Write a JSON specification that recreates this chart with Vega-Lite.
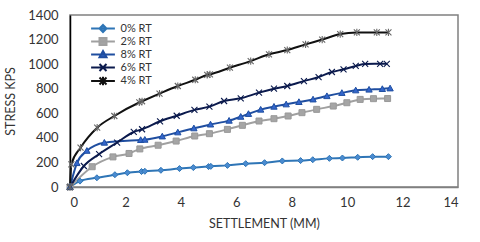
{
  "$schema": "https://vega.github.io/schema/vega-lite/v6.json",
  "width": 388,
  "height": 172,
  "autosize": {"type": "none"},
  "padding": {"left": 70, "top": 15, "right": 22, "bottom": 55},
  "background": "white",
  "config": {
    "view": {"stroke": "#808080", "strokeWidth": 1.5},
    "font": "Lato",
    "axis": {"grid": false, "ticks": false, "labelFont": "Lato", "titleFont": "Lato", "labelFontSize": 13, "titleFontSize": 12.5, "titleFontWeight": "normal", "labelColor": "#333", "titleColor": "#333", "format": "d"}
  },
  "data": {"values": [
    {"s": "0% RT", "x": 0, "y": 0}, {"s": "0% RT", "x": 0.36, "y": 48}, {"s": "0% RT", "x": 0.97, "y": 75}, {"s": "0% RT", "x": 1.62, "y": 100}, {"s": "0% RT", "x": 2.07, "y": 116}, {"s": "0% RT", "x": 2.58, "y": 126}, {"s": "0% RT", "x": 2.7, "y": 128}, {"s": "0% RT", "x": 3.28, "y": 136}, {"s": "0% RT", "x": 3.95, "y": 150}, {"s": "0% RT", "x": 4.45, "y": 158}, {"s": "0% RT", "x": 5.0, "y": 166}, {"s": "0% RT", "x": 5.08, "y": 168}, {"s": "0% RT", "x": 5.68, "y": 176}, {"s": "0% RT", "x": 6.34, "y": 190}, {"s": "0% RT", "x": 7.02, "y": 198}, {"s": "0% RT", "x": 7.66, "y": 212}, {"s": "0% RT", "x": 8.32, "y": 215}, {"s": "0% RT", "x": 8.76, "y": 222}, {"s": "0% RT", "x": 9.36, "y": 233}, {"s": "0% RT", "x": 9.83, "y": 236}, {"s": "0% RT", "x": 10.38, "y": 242}, {"s": "0% RT", "x": 10.92, "y": 247}, {"s": "0% RT", "x": 11.49, "y": 247},
    {"s": "2% RT", "x": 0, "y": 0}, {"s": "2% RT", "x": 0.8, "y": 165}, {"s": "2% RT", "x": 1.55, "y": 245}, {"s": "2% RT", "x": 2.13, "y": 273}, {"s": "2% RT", "x": 2.52, "y": 310}, {"s": "2% RT", "x": 3.18, "y": 340}, {"s": "2% RT", "x": 3.83, "y": 374}, {"s": "2% RT", "x": 4.5, "y": 415}, {"s": "2% RT", "x": 5.03, "y": 434}, {"s": "2% RT", "x": 5.68, "y": 469}, {"s": "2% RT", "x": 6.22, "y": 502}, {"s": "2% RT", "x": 6.82, "y": 537}, {"s": "2% RT", "x": 7.36, "y": 556}, {"s": "2% RT", "x": 7.87, "y": 578}, {"s": "2% RT", "x": 8.37, "y": 605}, {"s": "2% RT", "x": 8.9, "y": 632}, {"s": "2% RT", "x": 9.5, "y": 659}, {"s": "2% RT", "x": 9.99, "y": 686}, {"s": "2% RT", "x": 10.47, "y": 713}, {"s": "2% RT", "x": 10.95, "y": 719}, {"s": "2% RT", "x": 11.46, "y": 720},
    {"s": "8% RT", "x": 0, "y": 0}, {"s": "8% RT", "x": 0.25, "y": 195}, {"s": "8% RT", "x": 0.61, "y": 295}, {"s": "8% RT", "x": 1.24, "y": 361}, {"s": "8% RT", "x": 2.55, "y": 383}, {"s": "8% RT", "x": 2.7, "y": 385}, {"s": "8% RT", "x": 3.33, "y": 412}, {"s": "8% RT", "x": 3.89, "y": 445}, {"s": "8% RT", "x": 4.47, "y": 478}, {"s": "8% RT", "x": 5.07, "y": 509}, {"s": "8% RT", "x": 5.74, "y": 540}, {"s": "8% RT", "x": 6.16, "y": 572}, {"s": "8% RT", "x": 6.44, "y": 595}, {"s": "8% RT", "x": 6.88, "y": 630}, {"s": "8% RT", "x": 7.36, "y": 654}, {"s": "8% RT", "x": 7.8, "y": 673}, {"s": "8% RT", "x": 8.26, "y": 692}, {"s": "8% RT", "x": 8.77, "y": 713}, {"s": "8% RT", "x": 9.27, "y": 740}, {"s": "8% RT", "x": 9.81, "y": 766}, {"s": "8% RT", "x": 10.31, "y": 787}, {"s": "8% RT", "x": 10.79, "y": 793}, {"s": "8% RT", "x": 11.27, "y": 798}, {"s": "8% RT", "x": 11.55, "y": 803},
    {"s": "6% RT", "x": 0, "y": 0}, {"s": "6% RT", "x": 0.5, "y": 171}, {"s": "6% RT", "x": 1.05, "y": 268}, {"s": "6% RT", "x": 1.7, "y": 362}, {"s": "6% RT", "x": 2.3, "y": 448}, {"s": "6% RT", "x": 2.6, "y": 470}, {"s": "6% RT", "x": 3.25, "y": 535}, {"s": "6% RT", "x": 3.85, "y": 580}, {"s": "6% RT", "x": 4.49, "y": 628}, {"s": "6% RT", "x": 5.03, "y": 654}, {"s": "6% RT", "x": 5.56, "y": 700}, {"s": "6% RT", "x": 6.16, "y": 722}, {"s": "6% RT", "x": 6.82, "y": 768}, {"s": "6% RT", "x": 7.36, "y": 800}, {"s": "6% RT", "x": 7.84, "y": 822}, {"s": "6% RT", "x": 8.44, "y": 862}, {"s": "6% RT", "x": 8.97, "y": 895}, {"s": "6% RT", "x": 9.45, "y": 936}, {"s": "6% RT", "x": 9.87, "y": 958}, {"s": "6% RT", "x": 10.31, "y": 985}, {"s": "6% RT", "x": 10.65, "y": 1002}, {"s": "6% RT", "x": 11.19, "y": 1003}, {"s": "6% RT", "x": 11.43, "y": 1003},
    {"s": "4% RT", "x": 0, "y": 0}, {"s": "4% RT", "x": 0.05, "y": 185}, {"s": "4% RT", "x": 0.38, "y": 320}, {"s": "4% RT", "x": 0.98, "y": 483}, {"s": "4% RT", "x": 1.6, "y": 578}, {"s": "4% RT", "x": 2.5, "y": 688}, {"s": "4% RT", "x": 2.6, "y": 698}, {"s": "4% RT", "x": 3.23, "y": 760}, {"s": "4% RT", "x": 3.89, "y": 822}, {"s": "4% RT", "x": 4.52, "y": 873}, {"s": "4% RT", "x": 4.95, "y": 912}, {"s": "4% RT", "x": 5.05, "y": 917}, {"s": "4% RT", "x": 5.77, "y": 971}, {"s": "4% RT", "x": 6.52, "y": 1025}, {"s": "4% RT", "x": 7.18, "y": 1080}, {"s": "4% RT", "x": 7.84, "y": 1115}, {"s": "4% RT", "x": 8.5, "y": 1161}, {"s": "4% RT", "x": 9.1, "y": 1200}, {"s": "4% RT", "x": 9.75, "y": 1245}, {"s": "4% RT", "x": 10.35, "y": 1258}, {"s": "4% RT", "x": 11.07, "y": 1258}, {"s": "4% RT", "x": 11.49, "y": 1258}
  ]},
  "encoding": {
    "x": {"field": "x", "type": "quantitative", "title": "SETTLEMENT (MM)", "scale": {"domain": [0, 14], "nice": false}, "axis": {"values": [0, 2, 4, 6, 8, 10, 12, 14], "labelPadding": 9, "titlePadding": 8, "domainColor": "#808080", "domainWidth": 1.5}},
    "y": {"field": "y", "type": "quantitative", "title": "STRESS KPS", "scale": {"domain": [0, 1400], "nice": false}, "axis": {"values": [0, 200, 400, 600, 800, 1000, 1200, 1400], "labelPadding": 12, "titlePadding": 10, "domainColor": "#000000", "domainWidth": 1.5}}
  },
  "layer": [
    {
      "mark": {"type": "line", "interpolate": "monotone", "strokeWidth": 2},
      "encoding": {
        "color": {"field": "s", "type": "nominal", "legend": null, "scale": {"range": ["#2E75B6", "#A0A0A0", "#111111", "#0B1A4D", "#1F4EA0"]}}
      }
    },
    {
      "transform": [{"filter": "datum.s === '0% RT'"}],
      "mark": {"type": "point", "filled": true, "shape": "M0,-1L1,0L0,1L-1,0Z", "size": 36, "fill": "#4A8BD0", "stroke": "#2E75B6", "strokeWidth": 1, "opacity": 1}
    },
    {
      "transform": [{"filter": "datum.s === '2% RT'"}],
      "mark": {"type": "point", "filled": true, "shape": "M-1,-1L1,-1L1,1L-1,1Z", "size": 36, "fill": "#A5A5A5", "stroke": "#999999", "strokeWidth": 1, "opacity": 1}
    },
    {
      "transform": [{"filter": "datum.s === '8% RT'"}],
      "mark": {"type": "point", "filled": true, "shape": "M0,-1L1,0.8L-1,0.8Z", "size": 40, "fill": "#3366CC", "stroke": "#1F4EA0", "strokeWidth": 1, "opacity": 1}
    },
    {
      "transform": [{"filter": "datum.s === '6% RT'"}],
      "mark": {"type": "point", "filled": false, "shape": "M-1,-1L1,1M-1,1L1,-1", "size": 36, "stroke": "#0B1A4D", "strokeWidth": 1.1, "opacity": 1}
    },
    {
      "transform": [{"filter": "datum.s === '4% RT'"}],
      "mark": {"type": "point", "filled": false, "shape": "M-1,-1L1,1M-1,1L1,-1M0,-1.2L0,1.2", "size": 36, "stroke": "#666666", "strokeWidth": 1.1, "opacity": 1}
    },
    {
      "mark": {"type": "point", "filled": true, "size": 49, "strokeWidth": 2, "opacity": 0},
      "encoding": {
        "fill": {"field": "s", "type": "nominal", "title": null, "scale": {"domain": ["0% RT", "2% RT", "8% RT", "6% RT", "4% RT"], "range": ["#4A8BD0", "#A5A5A5", "#3366CC", "#0B1A4D", "#666666"]},
          "legend": {"orient": "none", "legendX": 27.5, "legendY": 8, "padding": 0, "labelFont": "Lato", "labelFontSize": 11, "labelColor": "#333", "labelOffset": 12, "rowPadding": -2.5, "symbolSize": 49, "symbolStrokeWidth": 2, "symbolOpacity": 1}},
        "stroke": {"field": "s", "type": "nominal", "title": null, "scale": {"domain": ["0% RT", "2% RT", "8% RT", "6% RT", "4% RT"], "range": ["#2E75B6", "#A0A0A0", "#1F4EA0", "#0B1A4D", "#111111"]},
          "legend": {"orient": "none", "legendX": 27.5, "legendY": 8, "padding": 0, "labelFont": "Lato", "labelFontSize": 11, "labelColor": "#333", "labelOffset": 12, "rowPadding": -2.5, "symbolSize": 49, "symbolStrokeWidth": 2, "symbolOpacity": 1}},
        "shape": {"field": "s", "type": "nominal", "title": null, "scale": {"domain": ["0% RT", "2% RT", "8% RT", "6% RT", "4% RT"], "range": ["M-3.4,0L3.4,0M0,-1L1,0L0,1L-1,0Z", "M-3.4,0L3.4,0M-1,-1L1,-1L1,1L-1,1Z", "M-3.4,0L3.4,0M0,-1L1,0.8L-1,0.8Z", "M-3.4,0L3.4,0M-1,-1L1,1M-1,1L1,-1", "M-3.4,0L3.4,0M-1,-1L1,1M-1,1L1,-1M0,-1.2L0,1.2"]},
          "legend": {"orient": "none", "legendX": 27.5, "legendY": 8, "padding": 0, "labelFont": "Lato", "labelFontSize": 11, "labelColor": "#333", "labelOffset": 12, "rowPadding": -2.5, "symbolSize": 49, "symbolStrokeWidth": 2, "symbolOpacity": 1}}
      }
    }
  ]
}
